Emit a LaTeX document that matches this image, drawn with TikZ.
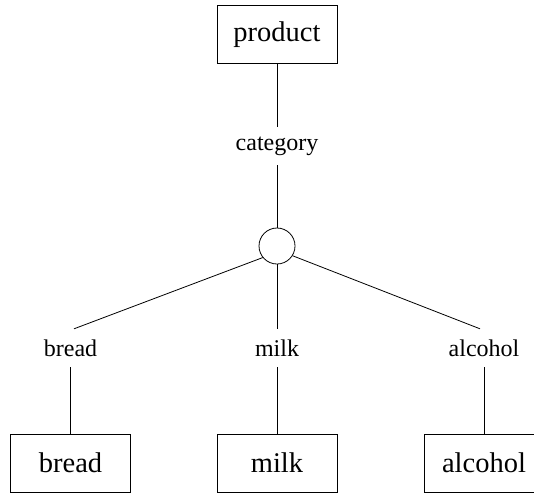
\documentclass[tikz,border=0pt]{standalone}
\usepackage{fontspec}
\setmainfont{Liberation Serif}
\begin{document}
\begin{tikzpicture}[x=1pt,y=-1pt,
  entity/.style={draw,line width=0.8pt,minimum width=120pt,minimum height=58pt,inner sep=0pt,font=\fontsize{28.5}{30}\selectfont},
  role/.style={inner sep=0pt,minimum height=38pt,font=\fontsize{24}{26}\selectfont},
  junction/.style={draw,circle,line width=0.8pt,minimum size=36pt,inner sep=0pt},
  link/.style={line width=0.8pt}]
\useasboundingbox (0,0) rectangle (534,493);
% entities
\node[entity] (product) at (277,34.5) {product};
\node[entity] (bread)   at (70.5,463) {bread};
\node[entity] (milk)    at (277,463) {milk};
\node[entity] (alcohol) at (484,463) {alcohol};
% role labels
\node[role] (cat) at (277,146) {category};
\node[role] (rb)  at (70.5,348) {bread};
\node[role] (rm)  at (277,348) {milk};
\node[role] (ra)  at (484,348) {alcohol};
% junction
\node[junction] (j) at (277,246) {};
% connectors
\draw[link] (product.south) -- (cat.north);
\draw[link] (cat.south) -- (j.north);
\draw[link] (j.219) -- ([xshift=3.5pt]rb.north);
\draw[link] (j.south) -- (rm.north);
\draw[link] (j.328) -- ([xshift=-4pt]ra.north);
\draw[link] (rb.south) -- (bread.north);
\draw[link] (rm.south) -- (milk.north);
\draw[link] (ra.south) -- (alcohol.north);
\end{tikzpicture}
\end{document}
